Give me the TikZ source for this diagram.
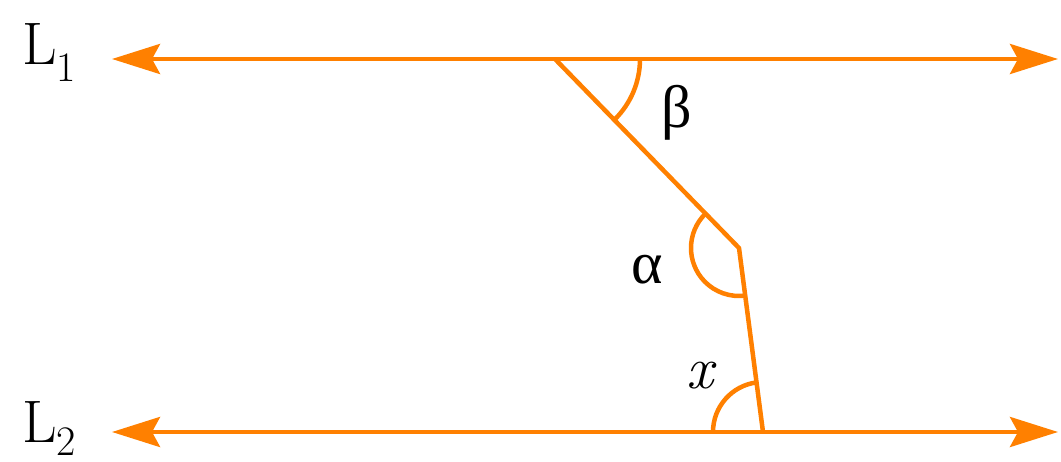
\documentclass[tikz,border=0pt]{standalone}
\usepackage{fontspec}
\newfontfamily\greekfont{Liberation Serif}
\usetikzlibrary{arrows.meta,angles,calc}
\definecolor{lineorange}{RGB}{255,128,0}

\tikzset{
  parline/.style={lineorange, line width=4.5pt, {Stealth[length=48pt, width=30pt, inset=8pt]}-{Stealth[length=48pt, width=30pt, inset=8pt]}},
  transversal/.style={lineorange, line width=4.5pt, line join=miter},
  anglemark/.style={draw=lineorange, line width=4.5pt},
  lbl/.style={font=\fontsize{60}{72}\selectfont, inner sep=0pt}
}

\begin{document}
\begin{tikzpicture}[x=1pt, y=1pt]
    \useasboundingbox (0,0) rectangle (1061,461);

    % End points of the two parallel lines
    \coordinate (L1W) at (112,402);
    \coordinate (L1E) at (1058,402);
    \coordinate (L2W) at (112,29);
    \coordinate (L2E) at (1058,29);

    % Vertices of the bent transversal
    \coordinate (A) at (555,402);
    \coordinate (B) at (739,213);
    \coordinate (C) at (763,29);

    % Parallel lines L_1 and L_2
    \draw[parline] (L1W) -- (L1E);
    \draw[parline] (L2W) -- (L2E);

    % Bent transversal
    \draw[transversal] (A) -- (B) -- (C);

    % Angle marks
    \pic[anglemark, angle radius=85pt] {angle = B--A--L1E};
    \pic[anglemark, angle radius=48pt] {angle = A--B--C};
    \pic[anglemark, angle radius=50pt] {angle = B--C--L2W};

    % Labels
    \node[lbl, anchor=base west] (l1) at (22,396) {L\raisebox{-17pt}[0pt][0pt]{\fontsize{42}{50}\selectfont 1}};
    \node[lbl, anchor=base west] (l2) at (22,19) {L\raisebox{-14pt}[0pt][0pt]{\fontsize{42}{50}\selectfont 2}};
    \node[lbl] (beta) at (677,348) {\greekfont β};
    \node[lbl] (alpha) at (647,191) {\greekfont α};
    \node[lbl] (ex) at (700,85) {\itshape x};
  \end{tikzpicture}
\end{document}
